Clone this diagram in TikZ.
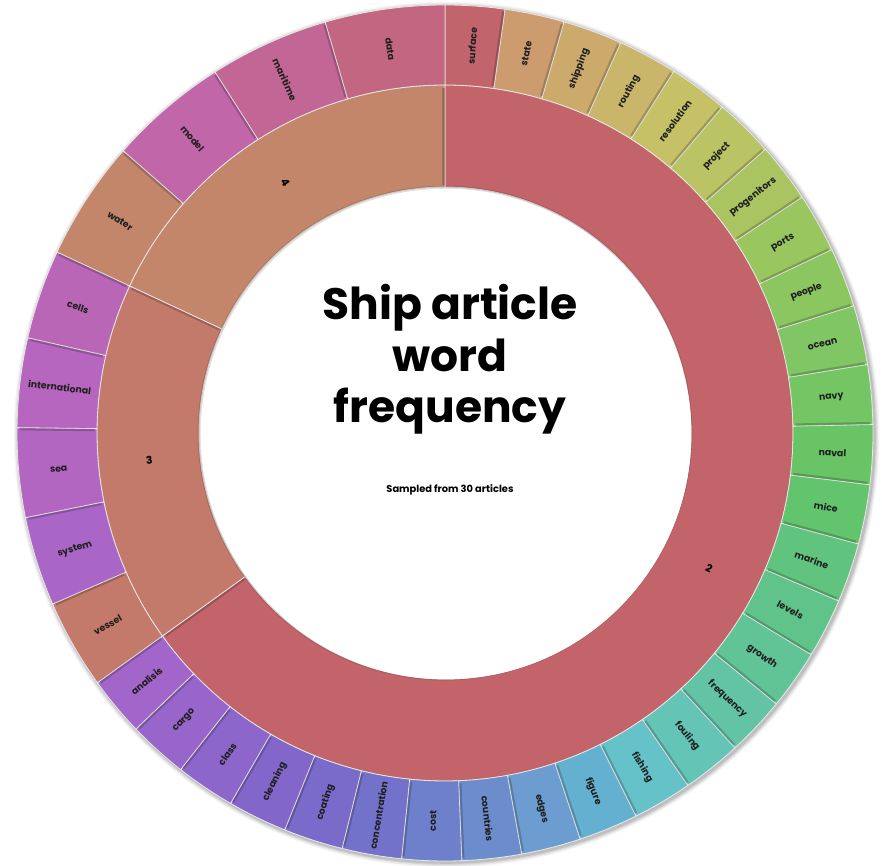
\documentclass[tikz,border=0pt]{standalone}
\usepackage{fontspec}
\setmainfont{Poppins}
\begin{document}
\tikzset{
  wlabel/.style={font=\bfseries\fontsize{7}{9}\selectfont, text=black!88, inner sep=0pt},
  clabel/.style={font=\bfseries\fontsize{8}{9}\selectfont, inner sep=0pt},
  segline/.style={draw=white!80!gray, line width=0.6pt},
  titlestyle/.style={font=\bfseries\fontsize{33}{38}\selectfont, anchor=base, inner sep=0pt},
  subtitlestyle/.style={font=\bfseries\fontsize{7.4}{9}\selectfont, inner sep=0pt}
}
% #1 start angle, #2 end angle, #3 HTML colour, #4 word
\newcommand\wordseg[4]{%
  \edef\tmpdef{\noexpand\definecolor{segcol}{HTML}{#3}}\tmpdef
  \filldraw[fill=segcol, segline] (#1:261pt) -- (#1:321pt) arc[start angle=#1, end angle=#2, radius=321pt] -- (#2:261pt) arc[start angle=#2, end angle=#1, radius=261pt] -- cycle;
  \draw[black, opacity=0.2, line width=1.8pt] ($(#1:263pt)!1.1pt!90:(#1:319pt)$) -- ($(#1:319pt)!1.1pt!-90:(#1:263pt)$);
  \pgfmathsetmacro\segmid{(#1+#2)/2}
  \pgfmathsetmacro\segrot{cos(\segmid)>=0 ? \segmid : \segmid+180}
  \node[wlabel, rotate=\segrot] (w-#4) at (\segmid:291pt) {#4};
}
% cluster sector
\newcommand\clusterseg[4]{%
  \edef\tmpdef{\noexpand\definecolor{segcol}{HTML}{#3}}\tmpdef
  \filldraw[fill=segcol, segline] (#1:184.5pt) -- (#1:261pt) arc[start angle=#1, end angle=#2, radius=261pt] -- (#2:184.5pt) arc[start angle=#2, end angle=#1, radius=184.5pt] -- cycle;
  \draw[black, opacity=0.2, line width=1.8pt] ($(#1:186pt)!1.1pt!90:(#1:259pt)$) -- ($(#1:259pt)!1.1pt!-90:(#1:186pt)$);
  \pgfmathsetmacro\segmid{(#1+#2)/2}
  \pgfmathsetmacro\segrot{cos(\segmid)>=0 ? \segmid : \segmid+180}
  \node[clabel, rotate=\segrot] (cl-#4) at (\segmid:222.75pt) {#4};
}
\usetikzlibrary{calc}
\begin{tikzpicture}
\useasboundingbox (-333.75pt,-324.75pt) rectangle (327.75pt,324.75pt);
% soft outer shadow
\foreach \k/\op in {4/0.04,3/0.06,2/0.08,1/0.10}{
  \fill[black, opacity=\op] (1.2pt,-1.2pt) circle[radius=321pt+\k*0.9pt];
}
\fill[white] (0,0) circle[radius=321pt];
% clusters
\clusterseg{215.7}{450}{C2646A}{2}
\clusterseg{155}{215.7}{C47A6A}{3}
\clusterseg{90}{155}{C4866A}{4}
% cluster 2 words
\foreach \w/\c [count=\i from 0] in {surface/C2646C, state/CC9C6E, shipping/CCAA6C, routing/CAB66A, resolution/C6C066, project/BAC464, progenitors/AAC462, ports/9AC660, people/8CC660, ocean/80C664, navy/74C664, naval/68C464, mice/62C46C, marine/60C47E, levels/60C48A, growth/60C496, frequency/62C4A4, fouling/64C4B6, fishing/64C2C8, figure/64B0D0, edges/6C9CD0, countries/6C8CCC, cost/6E80CC, concentration/7272CA, coating/7A6ACA, cleaning/8266CA, class/8C66CA, cargo/9866CA, analisis/A266CA}{
  \pgfmathsetmacro\aa{90-8.0793*\i}
  \pgfmathsetmacro\bb{90-8.0793*(\i+1)}
  \wordseg{\aa}{\bb}{\c}{\w}
}
% cluster 3 words
\foreach \w/\c [count=\i from 0] in {vessel/C47A6A, system/AA66C6, sea/B266C2, international/B666BE, cells/BA66B6}{
  \pgfmathsetmacro\aa{215.7-12.14*\i}
  \pgfmathsetmacro\bb{215.7-12.14*(\i+1)}
  \wordseg{\aa}{\bb}{\c}{\w}
}
% cluster 4 words
\foreach \w/\c [count=\i from 0] in {water/C4866A, model/C266AA, maritime/C26696, data/C26682}{
  \pgfmathsetmacro\aa{155-16.25*\i}
  \pgfmathsetmacro\bb{155-16.25*(\i+1)}
  \wordseg{\aa}{\bb}{\c}{\w}
}
% inner white disc with faint edge shadow
\fill[black, opacity=0.12] (0,0) circle[radius=185.5pt];
\fill[white] (0.8pt,-0.8pt) circle[radius=184pt];
% title
\node[titlestyle] (t1) at (3.75pt,84.75pt) {Ship article};
\node[titlestyle] (t2) at (3.75pt,45.75pt) {word};
\node[titlestyle] (t3) at (3.75pt,7.5pt) {frequency};
\node[subtitlestyle] (sub) at (3.75pt,-42.75pt) {Sampled from 30 articles};
\end{tikzpicture}
\end{document}
